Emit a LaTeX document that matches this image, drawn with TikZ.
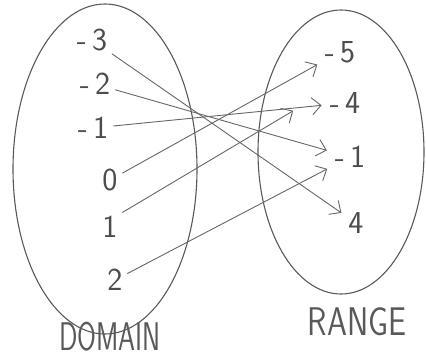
\documentclass[tikz,border=0pt]{standalone}
\usepackage{graphicx}
\usetikzlibrary{arrows.meta,shapes.geometric}
\begin{document}
\begin{tikzpicture}[x=1pt, y=-1pt,
  set/.style={
    draw=black!65, ellipse, line width=1.1pt,
    inner sep=0pt
  },
  num/.style={font=\sffamily\fontsize{32}{34}\selectfont, text=black!70, inner sep=2pt},
  setname/.style={font=\sffamily\fontsize{40}{42}\selectfont, text=black!65, inner sep=1pt},
  map/.style={draw=black!60, line width=0.9pt,
    -{Straight Barb[length=9pt,width=17pt]},
    shorten <=3pt, shorten >=6pt}
]
\useasboundingbox (0,0) rectangle (426,360);

% --- Sets ---
\node[set, minimum width=184pt, minimum height=330pt] (domain) at (105,169) {};
\node[set, minimum width=166pt, minimum height=284pt] (range) at (341,152) {};

% --- Domain values ---
\foreach \v/\x/\y [count=\i] in
  {-\,3/92/40, -\,2/95/84, -\,1/93/128, 0/110/180, 1/110/227, 2/115/280}
{
  \node[num] (d\i) at (\x,\y) {\v};
}

% --- Range values ---
\foreach \v/\x/\y [count=\i] in
  {-\,5/340/52, -\,4/345/103, -\,1/350/157, 4/356/223}
{
  \node[num] (r\i) at (\x,\y) {\v};
}

% --- Labels ---
\node[setname] (domlabel) at (110,337) {\scalebox{0.68}[1]{DOMAIN}};
\node[setname] (ranlabel) at (357,322) {\scalebox{0.8}[1]{RANGE}};

% --- Mapping ---
\draw[map] (d1) -- (r4);
\draw[map] (d2) -- (r3);
\draw[map] (d3) -- (r2);
\draw[map] (d4) -- (r1);
\draw[map, shorten >=40pt] (d5.north east) -- (r2.north west);
\draw[map] (d6) -- (r3);

\end{tikzpicture}
\end{document}
